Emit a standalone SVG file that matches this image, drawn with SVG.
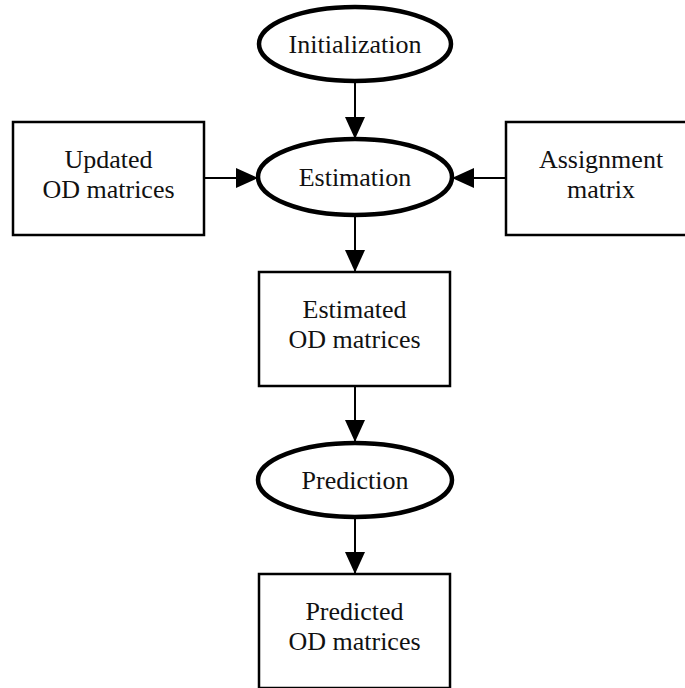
<svg xmlns="http://www.w3.org/2000/svg" width="685" height="688" viewBox="0 0 685 688">
  <defs>
    <marker id="arrow" viewBox="0 0 22 20" refX="22" refY="10" markerWidth="22" markerHeight="20" markerUnits="userSpaceOnUse" orient="auto">
      <path d="M0,0 L22,10 L0,20 Z" fill="#000"/>
    </marker>
  </defs>
  <style>
    .process { fill: #fff; stroke: #000; stroke-width: 4.5; }
    .data { fill: #fff; stroke: #000; stroke-width: 2.5; }
    .label { font-family: "Liberation Serif", "Times New Roman", serif; font-size: 26px; fill: #111; text-anchor: middle; }
    .edge { stroke: #000; stroke-width: 2; fill: none; marker-end: url(#arrow); }
  </style>
  <rect width="685" height="688" fill="#fff"/>

  <g id="connectors">
    <line class="edge" x1="355" y1="81" x2="355" y2="139"/>
    <line class="edge" x1="204" y1="178" x2="258" y2="178"/>
    <line class="edge" x1="506" y1="178" x2="452" y2="178"/>
    <line class="edge" x1="355" y1="215" x2="355" y2="272"/>
    <line class="edge" x1="355" y1="386" x2="355" y2="442"/>
    <line class="edge" x1="355" y1="517" x2="355" y2="574"/>
  </g>

  <g id="initialization">
    <ellipse class="process" cx="355" cy="44" rx="96" ry="37"/>
    <text class="label" x="355" y="53">Initialization</text>
  </g>

  <g id="updated-od">
    <rect class="data" x="13" y="122" width="191" height="113"/>
    <text class="label" x="108.5" y="168">Updated</text>
    <text class="label" x="108.5" y="198">OD matrices</text>
  </g>

  <g id="estimation">
    <ellipse class="process" cx="355" cy="177" rx="97" ry="38"/>
    <text class="label" x="355" y="186">Estimation</text>
  </g>

  <g id="assignment-matrix">
    <rect class="data" x="506" y="122" width="191" height="113"/>
    <text class="label" x="601" y="168">Assignment</text>
    <text class="label" x="601" y="198">matrix</text>
  </g>

  <g id="estimated-od">
    <rect class="data" x="259" y="272" width="191" height="114"/>
    <text class="label" x="354.5" y="318">Estimated</text>
    <text class="label" x="354.5" y="348">OD matrices</text>
  </g>

  <g id="prediction">
    <ellipse class="process" cx="355" cy="480" rx="97" ry="37"/>
    <text class="label" x="355" y="489">Prediction</text>
  </g>

  <g id="predicted-od">
    <rect class="data" x="259" y="574" width="191" height="114"/>
    <text class="label" x="354.5" y="620">Predicted</text>
    <text class="label" x="354.5" y="650">OD matrices</text>
  </g>
</svg>
